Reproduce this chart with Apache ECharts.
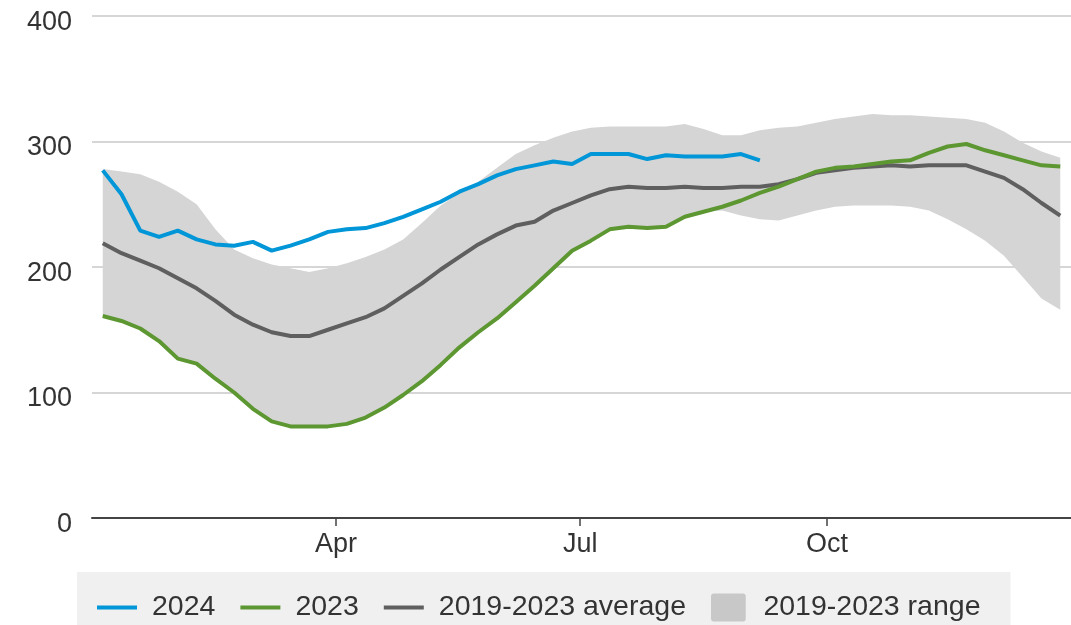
<!DOCTYPE html>
<html>
<head>
<meta charset="utf-8">
<script src="https://cdn.jsdelivr.net/npm/echarts@6/dist/echarts.min.js"></script>
<style>
  html, body { margin: 0; padding: 0; background: #ffffff; }
  #chart { width: 1071px; height: 625px; }
</style>
</head>
<body>
<div id="chart"></div>
<script>
// Day of year (mid-week) for each weekly observation
const weekDay = [4, 11, 18, 25, 32, 39, 46, 53, 60, 67, 74, 81, 88, 95, 102, 109, 116, 123, 130, 137,
  144, 151, 158, 165, 172, 179, 186, 193, 200, 207, 214, 221, 228, 235, 242, 249, 256, 263, 270, 277,
  284, 291, 298, 305, 312, 319, 326, 333, 340, 347, 354, 361];

// Month tick positions (day of year) and labels
const monthTickDays = [91, 182, 274];
const monthTickLabels = ['Apr', 'Jul', 'Oct'];

const series2024 = [277, 258, 229, 224, 229, 222, 218, 217, 220, 213, 217, 222, 228, 230, 231, 235, 240, 246, 252, 260,
  266, 273, 278, 281, 284, 282, 290, 290, 290, 286, 289, 288, 288, 288, 290, 285];

const series2023 = [161, 157, 151, 141, 127, 123, 111, 100, 87, 77, 73, 73, 73, 75, 80, 88, 98, 109, 122, 136,
  148, 159, 172, 185, 199, 213, 221, 230, 232, 231, 232, 240, 244, 248, 253, 259, 264, 270, 276, 279,
  280, 282, 284, 285, 291, 296, 298, 293, 289, 285, 281, 280];

const avg5yr = [219, 211, 205, 199, 191, 183, 173, 162, 154, 148, 145, 145, 150, 155, 160, 167, 177, 187, 198, 208,
  218, 226, 233, 236, 245, 251, 257, 262, 264, 263, 263, 264, 263, 263, 264, 264, 266, 270, 275, 277,
  279, 280, 281, 280, 281, 281, 281, 276, 271, 262, 251, 241];

const rangeHigh = [278, 276, 274, 268, 260, 250, 230, 214, 207, 202, 199, 196, 199, 203, 208, 214, 222, 235, 249, 259,
  268, 279, 290, 297, 303, 308, 311, 312, 312, 312, 312, 314, 310, 305, 305, 309, 311, 312, 315, 318,
  320, 322, 321, 321, 320, 319, 318, 315, 308, 299, 292, 287];

const rangeLow = [161, 157, 151, 141, 127, 123, 111, 100, 87, 77, 73, 73, 73, 75, 80, 88, 98, 109, 122, 136,
  148, 159, 172, 185, 199, 213, 221, 230, 232, 231, 232, 240, 244, 245, 241, 238, 237, 241, 245, 248,
  249, 249, 249, 248, 245, 238, 230, 221, 209, 192, 175, 166];

const yTicks = { min: 0, max: 400, interval: 100 };

const pair = (vals) => vals.map((v, i) => [weekDay[i], v]);
const bandData = rangeHigh.map((v, i) => [weekDay[i], rangeLow[i], v]);

const FONT = '"Liberation Sans", Arial, sans-serif';
const LINE_ICON = 'path://M0,0H40V4H0Z';
const chart = echarts.init(document.getElementById('chart'), null, { renderer: 'canvas' });

chart.setOption({
  animation: false,
  backgroundColor: '#ffffff',
  grid: { left: 92, right: 0, top: 16, bottom: 107, containLabel: false },
  xAxis: {
    type: 'value',
    min: 0,
    max: 365,
    axisLine: { show: true, lineStyle: { color: '#444444', width: 2 } },
    axisTick: { show: true, customValues: monthTickDays, length: 8, lineStyle: { color: '#444444', width: 1.5 } },
    axisLabel: {
      customValues: monthTickDays,
      formatter: (v) => monthTickLabels[monthTickDays.indexOf(v)] || '',
      fontFamily: FONT, fontSize: 27, color: '#333333', margin: 13
    },
    splitLine: { show: false }
  },
  yAxis: {
    type: 'value',
    min: yTicks.min,
    max: yTicks.max,
    interval: yTicks.interval,
    axisLine: { show: false },
    axisTick: { show: false },
    axisLabel: {
      margin: 20,
      formatter: (v) => '{n|' + v + '}',
      rich: { n: { fontFamily: FONT, fontSize: 27, color: '#333333', padding: [13, 0, 0, 0] } }
    },
    splitLine: { show: true, lineStyle: { color: '#d6d6d6', width: 2 } }
  },
  legend: {
    left: 77,
    top: 572,
    orient: 'horizontal',
    backgroundColor: '#f0f0f0',
    padding: [21, 30, 21, 20],
    itemGap: 25,
    itemWidth: 40,
    itemHeight: 28,
    symbolKeepAspect: true,
    textStyle: { fontFamily: FONT, fontSize: 28.5, color: '#333333', padding: [0, 0, 0, 10] },
    data: [
      { name: '2024', icon: LINE_ICON },
      { name: '2023', icon: LINE_ICON },
      { name: '2019-2023 average', icon: LINE_ICON },
      { name: '2019-2023 range', icon: 'path://M3,0H33A3,3,0,0,1,36,3V26A3,3,0,0,1,33,29H3A3,3,0,0,1,0,26V3A3,3,0,0,1,3,0Z', itemStyle: { color: '#c8c8c8' } }
    ]
  },
  series: [
    {
      name: '2019-2023 range',
      type: 'custom',
      data: bandData,
      encode: { x: 0, y: [1, 2] },
      itemStyle: { color: '#c8c8c8' },
      silent: true,
      z: 1,
      renderItem: (params, api) => {
        if (params.dataIndex !== 0) return null;
        const pts = [];
        for (let i = 0; i < bandData.length; i++) pts.push(api.coord([bandData[i][0], bandData[i][2]]));
        for (let i = bandData.length - 1; i >= 0; i--) pts.push(api.coord([bandData[i][0], bandData[i][1]]));
        return { type: 'polygon', shape: { points: pts }, style: { fill: '#d5d5d5' } };
      }
    },
    {
      name: '2019-2023 average',
      type: 'line',
      data: pair(avg5yr),
      symbol: 'none',
      z: 2,
      itemStyle: { color: '#5f5f5f' },
      lineStyle: { color: '#5f5f5f', width: 4 }
    },
    {
      name: '2023',
      type: 'line',
      data: pair(series2023),
      symbol: 'none',
      z: 3,
      itemStyle: { color: '#5d9732' },
      lineStyle: { color: '#5d9732', width: 4 }
    },
    {
      name: '2024',
      type: 'line',
      data: pair(series2024),
      symbol: 'none',
      z: 4,
      itemStyle: { color: '#0096d7' },
      lineStyle: { color: '#0096d7', width: 4 }
    }
  ]
});
</script>
</body>
</html>
